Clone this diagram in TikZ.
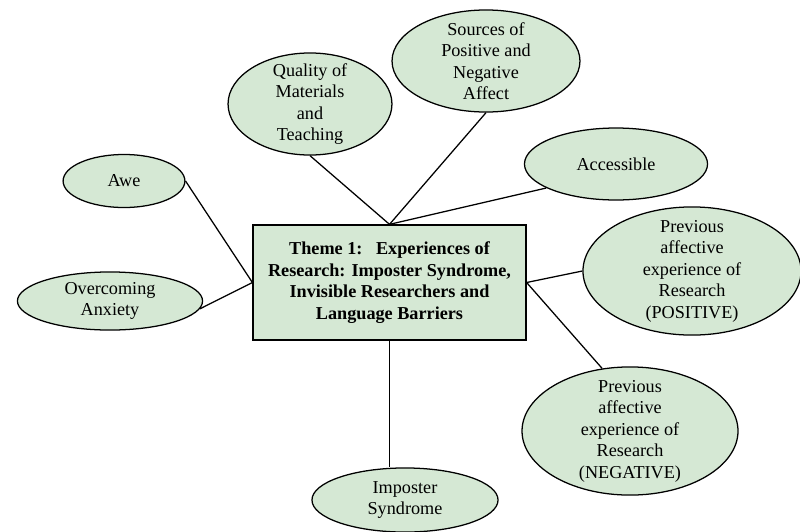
\documentclass[tikz,border=0pt]{standalone}
\usepackage{fontspec}
\setmainfont{Liberation Serif}
\usepackage{xcolor}
\definecolor{ink}{HTML}{000000}
\definecolor{themec}{HTML}{D5E8D4}
\usepackage{tikz}
\usetikzlibrary{shapes.geometric,positioning,calc}

\begin{document}
\begin{tikzpicture}[x=0.632pt,y=-0.632pt,every node/.style={font=\fontsize{11.5}{13.6}\selectfont}]
\tikzstyle{bubble}=[ellipse,draw=ink,line width=0.8pt,fill=themec,align=center,inner xsep=0pt,inner ysep=-4pt]
\tikzstyle{themebox}=[rectangle,draw=ink,line width=0.8pt,fill=themec,align=center,minimum width=172.5pt,minimum height=72.7pt,inner sep=0pt]
\tikzstyle{link}=[ink,line width=0.8pt]
\useasboundingbox (0,0) rectangle (800,531);
\node[themebox,font=\fontsize{11.5}{13.6}\selectfont\bfseries] (theme) at (389.5,282.5) {Theme 1:\ \ \ Experiences of\\Research: Imposter Syndrome,\\Invisible Researchers and\\Language Barriers};
\node[bubble,minimum width=77pt,minimum height=33.5pt] (awe) at (124,181) {Awe};
\node[bubble,minimum width=117pt,minimum height=36.7pt] (anx) at (110,301) {Overcoming\\Anxiety};
\node[bubble,minimum width=103.6pt,minimum height=64.5pt] (qual) at (310,104) {Quality of\\Materials\\and\\Teaching};
\node[bubble,minimum width=118.8pt,minimum height=64.5pt] (src) at (486,61) {Sources of\\Positive and\\Negative\\Affect};
\node[bubble,minimum width=115.7pt,minimum height=45.5pt] (acc) at (616,164) {Accessible};
\node[bubble,minimum width=137.8pt,minimum height=81pt] (pos) at (692,271) {Previous\\affective\\experience of\\Research\\(POSITIVE)};
\node[bubble,minimum width=136.5pt,minimum height=81pt] (neg) at (630,431) {Previous\\affective\\experience of\\Research\\(NEGATIVE)};
\node[bubble,minimum width=117.6pt,minimum height=40.5pt] (imp) at (405,500) {Imposter\\Syndrome};
\draw[link] (awe.east)--(theme.west);
\draw[link] (anx.-5)--(theme.west);
\draw[link] (qual.south)--(theme.north);
\draw[link] (src.south)--(theme.north);
\draw[link] (acc.-161)--(theme.north);
\draw[link] (pos.west)--(theme.east);
\draw[link] (neg.114)--(theme.east);
\draw[link] (theme.south)--(theme.south|-imp.north);
\end{tikzpicture}
\end{document}
